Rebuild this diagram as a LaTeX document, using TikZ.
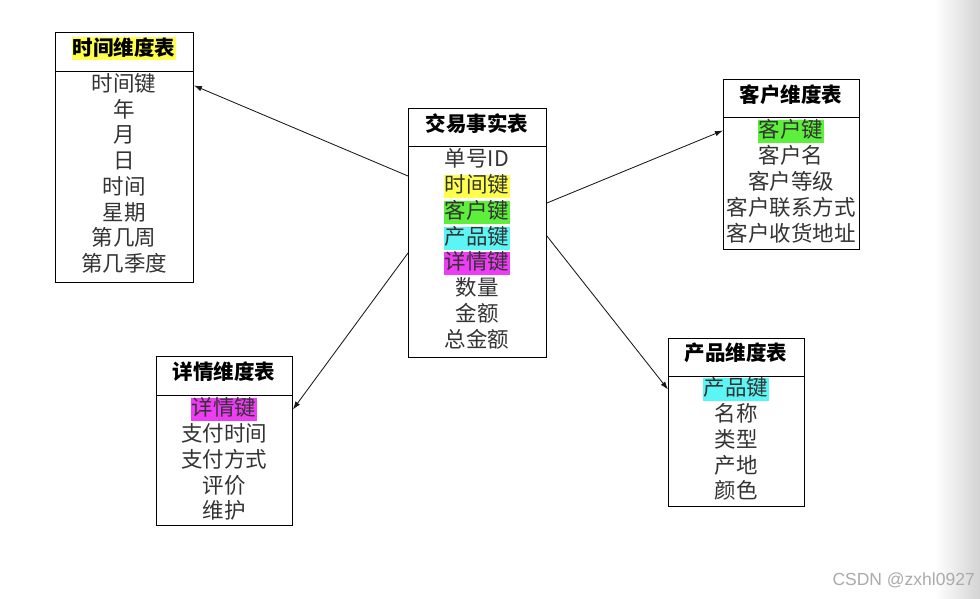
\documentclass[tikz,border=0pt]{standalone}
\usepackage{fontspec}
\setmainfont{Liberation Sans}
\newfontfamily\cjk{Noto Sans CJK SC}
\usetikzlibrary{arrows.meta,calc}
\definecolor{hlyellow}{HTML}{FFFF4D}
\definecolor{hlgreen}{HTML}{5CF03C}
\definecolor{hlcyan}{HTML}{5CF5F5}
\definecolor{hlmagenta}{HTML}{EE3CF5}
\begin{document}
\begin{tikzpicture}[x=1pt,y=-1pt,
  tbl/.style={draw=black, line width=0.9pt, inner sep=0pt, anchor=north west},
  sep/.style={draw=black, line width=0.9pt},
  ttl/.style={font=\cjk\bfseries\fontsize{20.5}{24}\selectfont, text=black, inner sep=1pt, text height=17pt, text depth=4pt, yshift=-1.5pt},
  row/.style={font=\cjk\fontsize{21.5}{24}\selectfont, text=black!80, inner sep=1pt, text height=17pt, text depth=4.5pt, yshift=-1.5pt},
  link/.style={draw=black!90, line width=0.85pt, -{Latex[length=8pt,width=5.5pt]}}
]
% background and right-edge shading
\fill[white] (0,0) rectangle (980,598);
\shade[left color=white, right color=black!17] (935,0) rectangle (980,598);

% ---------- time dimension ----------
\node[tbl, minimum width=138pt, minimum height=250pt] (time) at (55,32) {};
\draw[sep] (55,71) -- (193,71);
\node[ttl, fill=hlyellow] (timeT) at (124,47) {时间维度表};
\node[row] (t1) at (124,84) {时间键};
\node[row] (t2) at (124,110) {年};
\node[row] (t3) at (124,135) {月};
\node[row] (t4) at (124,161) {日};
\node[row] (t5) at (124,187) {时间};
\node[row] (t6) at (124,213) {星期};
\node[row] (t7) at (124,238) {第几周};
\node[row] (t8) at (124,264) {第几季度};

% ---------- fact table ----------
\node[tbl, minimum width=138pt, minimum height=249pt] (fact) at (408,108) {};
\draw[sep] (408,146) -- (546,146);
\node[ttl] (factT) at (477,123) {交易事实表};
\node[row] (f1) at (477,159) {单号ID};
\node[row, fill=hlyellow] (f2) at (477,185) {时间键};
\node[row, fill=hlgreen] (f3) at (477,211) {客户键};
\node[row, fill=hlcyan] (f4) at (477,237) {产品键};
\node[row, fill=hlmagenta] (f5) at (477,262) {详情键};
\node[row] (f6) at (477,288) {数量};
\node[row] (f7) at (477,314) {金额};
\node[row] (f8) at (477,340) {总金额};

% ---------- customer dimension ----------
\node[tbl, minimum width=136pt, minimum height=170pt] (cust) at (723,79) {};
\draw[sep] (723,117) -- (859,117);
\node[ttl] (custT) at (791,94) {客户维度表};
\node[row, fill=hlgreen] (c1) at (791,130) {客户键};
\node[row] (c2) at (791,156) {客户名};
\node[row] (c3) at (791,182) {客户等级};
\node[row] (c4) at (791,208) {客户联系方式};
\node[row] (c5) at (791,234) {客户收货地址};

% ---------- detail dimension ----------
\node[tbl, minimum width=136pt, minimum height=169pt] (det) at (156,356) {};
\draw[sep] (156,395) -- (292,395);
\node[ttl] (detT) at (224,371) {详情维度表};
\node[row, fill=hlmagenta] (d1) at (224,408) {详情键};
\node[row] (d2) at (224,434) {支付时间};
\node[row] (d3) at (224,460) {支付方式};
\node[row] (d4) at (224,486) {评价};
\node[row] (d5) at (224,511) {维护};

% ---------- product dimension ----------
\node[tbl, minimum width=136pt, minimum height=168pt] (prod) at (668,338) {};
\draw[sep] (668,376) -- (804,376);
\node[ttl] (prodT) at (736,352) {产品维度表};
\node[row, fill=hlcyan] (p1) at (736,388) {产品键};
\node[row] (p2) at (736,414) {名称};
\node[row] (p3) at (736,440) {类型};
\node[row] (p4) at (736,466) {产地};
\node[row] (p5) at (736,491) {颜色};

% ---------- connectors ----------
\draw[link] ($(fact.north west)+(0,68)$) -- (time.east |- t1);
\draw[link] ($(fact.north east)+(0,95)$) -- ($(cust.west |- c1)+(0,-1)$);
\draw[link] ($(fact.north west)+(0,145)$) -- (det.east |- d1);
\draw[link] ($(fact.north east)+(0,128)$) -- (prod.west |- p1);

% watermark
\node[font=\fontsize{17.5}{20}\selectfont, text=black!33, anchor=east, inner sep=0pt] (wm) at (975,580) {CSDN @zxhl0927};
\end{tikzpicture}
\end{document}
